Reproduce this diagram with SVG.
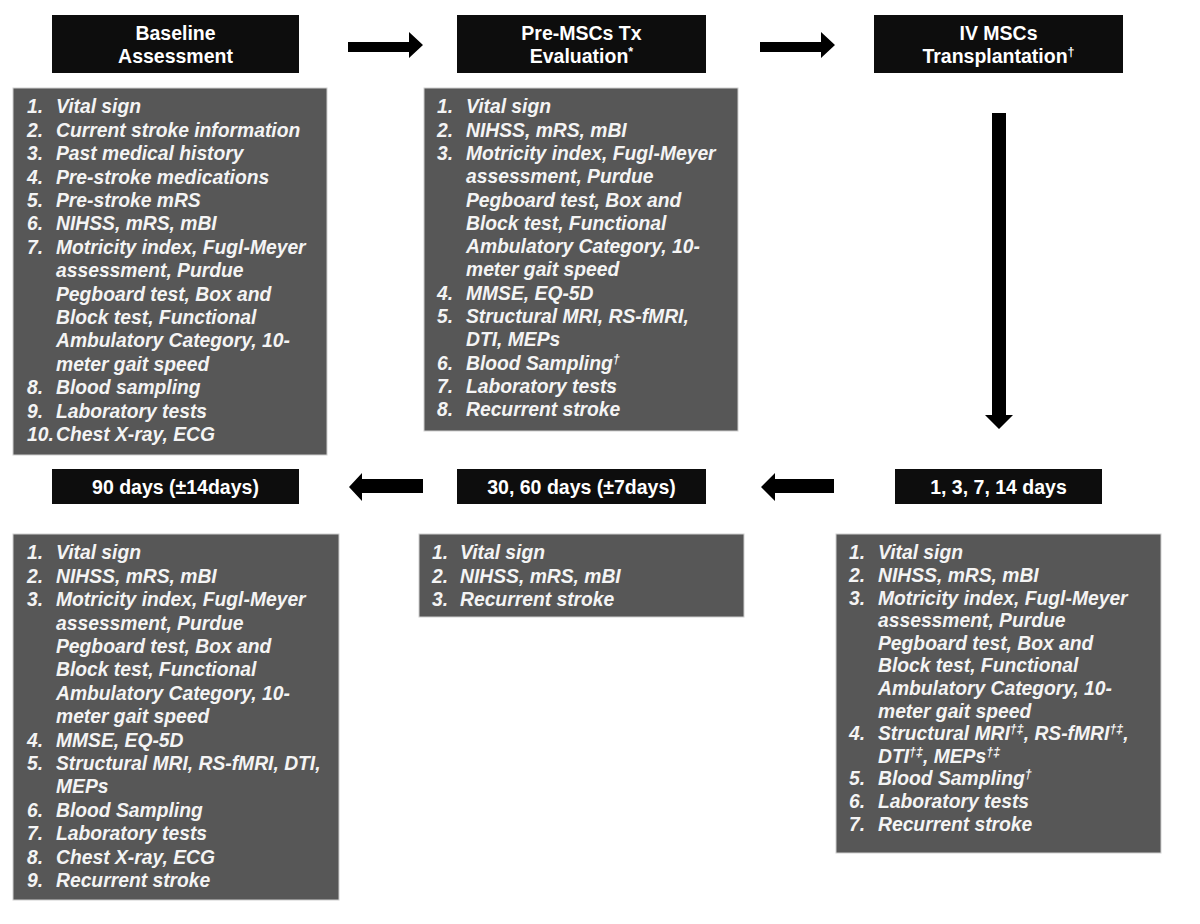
<svg xmlns="http://www.w3.org/2000/svg" width="1200" height="924" viewBox="0 0 1200 924">
<style>
.hdr{fill:#0d0d0d}
.box{fill:#575757;stroke:#cfcfcf;stroke-width:1}
.ht{font-family:"Liberation Sans",Arial,sans-serif;font-weight:bold;font-size:19.5px;fill:#ffffff;text-anchor:middle}
.lt{font-family:"Liberation Sans",Arial,sans-serif;font-weight:bold;font-style:italic;font-size:19.3px;fill:#f4f4f4}
.sup{font-size:12.5px}
.arr{fill:#000000}
</style>
<rect width="1200" height="924" fill="#ffffff"/>
<g id="connectors">
<polygon class="arr" points="348,42 409,42 409,32 423,45 409,58 409,52 348,52"/>
<polygon class="arr" points="760,42 821,42 821,32 835,45 821,58 821,52 760,52"/>
<polygon class="arr" points="992,113 1006,113 1006,415 1013,415 999,429 985,415 992,415"/>
<polygon class="arr" points="834,479 775,479 775,473 761,487 775,501 775,493 834,493"/>
<polygon class="arr" points="423,479 362,479 362,473 349,487 362,501 362,493 423,493"/>
</g>
<g id="baseline-header">
<rect class="hdr" x="52" y="15" width="247" height="58"/>
<text class="ht" x="175.5" y="40">Baseline</text>
<text class="ht" x="175.5" y="63">Assessment</text>
</g>
<g id="baseline-list">
<rect class="box" x="13" y="88" width="314" height="367"/>
<text class="lt" y="113.3"><tspan x="27">1.</tspan><tspan x="56">Vital sign</tspan></text>
<text class="lt" y="136.7"><tspan x="27">2.</tspan><tspan x="56">Current stroke information</tspan></text>
<text class="lt" y="160.1"><tspan x="27">3.</tspan><tspan x="56">Past medical history</tspan></text>
<text class="lt" y="183.5"><tspan x="27">4.</tspan><tspan x="56">Pre-stroke medications</tspan></text>
<text class="lt" y="206.9"><tspan x="27">5.</tspan><tspan x="56">Pre-stroke mRS</tspan></text>
<text class="lt" y="230.3"><tspan x="27">6.</tspan><tspan x="56">NIHSS, mRS, mBI</tspan></text>
<text class="lt" y="253.7"><tspan x="27">7.</tspan><tspan x="56">Motricity index, Fugl-Meyer</tspan></text>
<text class="lt" x="56" y="277.1">assessment, Purdue</text>
<text class="lt" x="56" y="300.5">Pegboard test, Box and</text>
<text class="lt" x="56" y="323.9">Block test, Functional</text>
<text class="lt" x="56" y="347.3">Ambulatory Category, 10-</text>
<text class="lt" x="56" y="370.7">meter gait speed</text>
<text class="lt" y="394.1"><tspan x="27">8.</tspan><tspan x="56">Blood sampling</tspan></text>
<text class="lt" y="417.5"><tspan x="27">9.</tspan><tspan x="56">Laboratory tests</tspan></text>
<text class="lt" y="440.9"><tspan x="27">10.</tspan><tspan x="56">Chest X-ray, ECG</tspan></text>
</g>
<g id="pre-header">
<rect class="hdr" x="457" y="15" width="249" height="58"/>
<text class="ht" x="581.5" y="40">Pre-MSCs Tx</text>
<text class="ht" x="581.5" y="63">Evaluation<tspan class="sup" dy="-7">*</tspan></text>
</g>
<g id="pre-list">
<rect class="box" x="424" y="88" width="314" height="343"/>
<text class="lt" y="113.3"><tspan x="437">1.</tspan><tspan x="466">Vital sign</tspan></text>
<text class="lt" y="136.6"><tspan x="437">2.</tspan><tspan x="466">NIHSS, mRS, mBI</tspan></text>
<text class="lt" y="159.9"><tspan x="437">3.</tspan><tspan x="466">Motricity index, Fugl-Meyer</tspan></text>
<text class="lt" x="466" y="183.2">assessment, Purdue</text>
<text class="lt" x="466" y="206.5">Pegboard test, Box and</text>
<text class="lt" x="466" y="229.8">Block test, Functional</text>
<text class="lt" x="466" y="253.1">Ambulatory Category, 10-</text>
<text class="lt" x="466" y="276.4">meter gait speed</text>
<text class="lt" y="299.7"><tspan x="437">4.</tspan><tspan x="466">MMSE, EQ-5D</tspan></text>
<text class="lt" y="323"><tspan x="437">5.</tspan><tspan x="466">Structural MRI, RS-fMRI,</tspan></text>
<text class="lt" x="466" y="346.3">DTI, MEPs</text>
<text class="lt" y="369.6"><tspan x="437">6.</tspan><tspan x="466">Blood Sampling</tspan><tspan class="sup" dy="-7">†</tspan></text>
<text class="lt" y="392.9"><tspan x="437">7.</tspan><tspan x="466">Laboratory tests</tspan></text>
<text class="lt" y="416.2"><tspan x="437">8.</tspan><tspan x="466">Recurrent stroke</tspan></text>
</g>
<g id="iv-header">
<rect class="hdr" x="874" y="15" width="249" height="58"/>
<text class="ht" x="998.5" y="40">IV MSCs</text>
<text class="ht" x="998.5" y="63">Transplantation<tspan class="sup" dy="-7">†</tspan></text>
</g>
<g id="d1-header">
<rect class="hdr" x="895" y="469" width="207" height="35"/>
<text class="ht" x="998.5" y="494">1, 3, 7, 14 days</text>
</g>
<g id="d1-list">
<rect class="box" x="836" y="534" width="325" height="319"/>
<text class="lt" y="559.3"><tspan x="849">1.</tspan><tspan x="878">Vital sign</tspan></text>
<text class="lt" y="581.9"><tspan x="849">2.</tspan><tspan x="878">NIHSS, mRS, mBI</tspan></text>
<text class="lt" y="604.5"><tspan x="849">3.</tspan><tspan x="878">Motricity index, Fugl-Meyer</tspan></text>
<text class="lt" x="878" y="627.1">assessment, Purdue</text>
<text class="lt" x="878" y="649.7">Pegboard test, Box and</text>
<text class="lt" x="878" y="672.3">Block test, Functional</text>
<text class="lt" x="878" y="694.9">Ambulatory Category, 10-</text>
<text class="lt" x="878" y="717.5">meter gait speed</text>
<text class="lt" y="740.1"><tspan x="849">4.</tspan><tspan x="878">Structural MRI</tspan><tspan class="sup" dy="-7">†‡</tspan><tspan dy="7">, RS-fMRI</tspan><tspan class="sup" dy="-7">†‡</tspan><tspan dy="7">,</tspan></text>
<text class="lt" y="762.7"><tspan x="878">DTI</tspan><tspan class="sup" dy="-7">†‡</tspan><tspan dy="7">, MEPs</tspan><tspan class="sup" dy="-7">†‡</tspan></text>
<text class="lt" y="785.3"><tspan x="849">5.</tspan><tspan x="878">Blood Sampling</tspan><tspan class="sup" dy="-7">†</tspan></text>
<text class="lt" y="807.9"><tspan x="849">6.</tspan><tspan x="878">Laboratory tests</tspan></text>
<text class="lt" y="830.5"><tspan x="849">7.</tspan><tspan x="878">Recurrent stroke</tspan></text>
</g>
<g id="d30-header">
<rect class="hdr" x="457" y="469" width="249" height="35"/>
<text class="ht" x="581.5" y="494">30, 60 days (±7days)</text>
</g>
<g id="d30-list">
<rect class="box" x="419" y="534" width="325" height="83"/>
<text class="lt" y="559.3"><tspan x="432">1.</tspan><tspan x="460">Vital sign</tspan></text>
<text class="lt" y="582.7"><tspan x="432">2.</tspan><tspan x="460">NIHSS, mRS, mBI</tspan></text>
<text class="lt" y="606.1"><tspan x="432">3.</tspan><tspan x="460">Recurrent stroke</tspan></text>
</g>
<g id="d90-header">
<rect class="hdr" x="52" y="469" width="247" height="35"/>
<text class="ht" x="175.5" y="494">90 days (±14days)</text>
</g>
<g id="d90-list">
<rect class="box" x="13" y="534" width="326" height="366"/>
<text class="lt" y="559.3"><tspan x="27">1.</tspan><tspan x="56">Vital sign</tspan></text>
<text class="lt" y="582.7"><tspan x="27">2.</tspan><tspan x="56">NIHSS, mRS, mBI</tspan></text>
<text class="lt" y="606.1"><tspan x="27">3.</tspan><tspan x="56">Motricity index, Fugl-Meyer</tspan></text>
<text class="lt" x="56" y="629.5">assessment, Purdue</text>
<text class="lt" x="56" y="652.9">Pegboard test, Box and</text>
<text class="lt" x="56" y="676.3">Block test, Functional</text>
<text class="lt" x="56" y="699.7">Ambulatory Category, 10-</text>
<text class="lt" x="56" y="723.1">meter gait speed</text>
<text class="lt" y="746.5"><tspan x="27">4.</tspan><tspan x="56">MMSE, EQ-5D</tspan></text>
<text class="lt" y="769.9"><tspan x="27">5.</tspan><tspan x="56">Structural MRI, RS-fMRI, DTI,</tspan></text>
<text class="lt" x="56" y="793.3">MEPs</text>
<text class="lt" y="816.7"><tspan x="27">6.</tspan><tspan x="56">Blood Sampling</tspan></text>
<text class="lt" y="840.1"><tspan x="27">7.</tspan><tspan x="56">Laboratory tests</tspan></text>
<text class="lt" y="863.5"><tspan x="27">8.</tspan><tspan x="56">Chest X-ray, ECG</tspan></text>
<text class="lt" y="886.9"><tspan x="27">9.</tspan><tspan x="56">Recurrent stroke</tspan></text>
</g>
</svg>
